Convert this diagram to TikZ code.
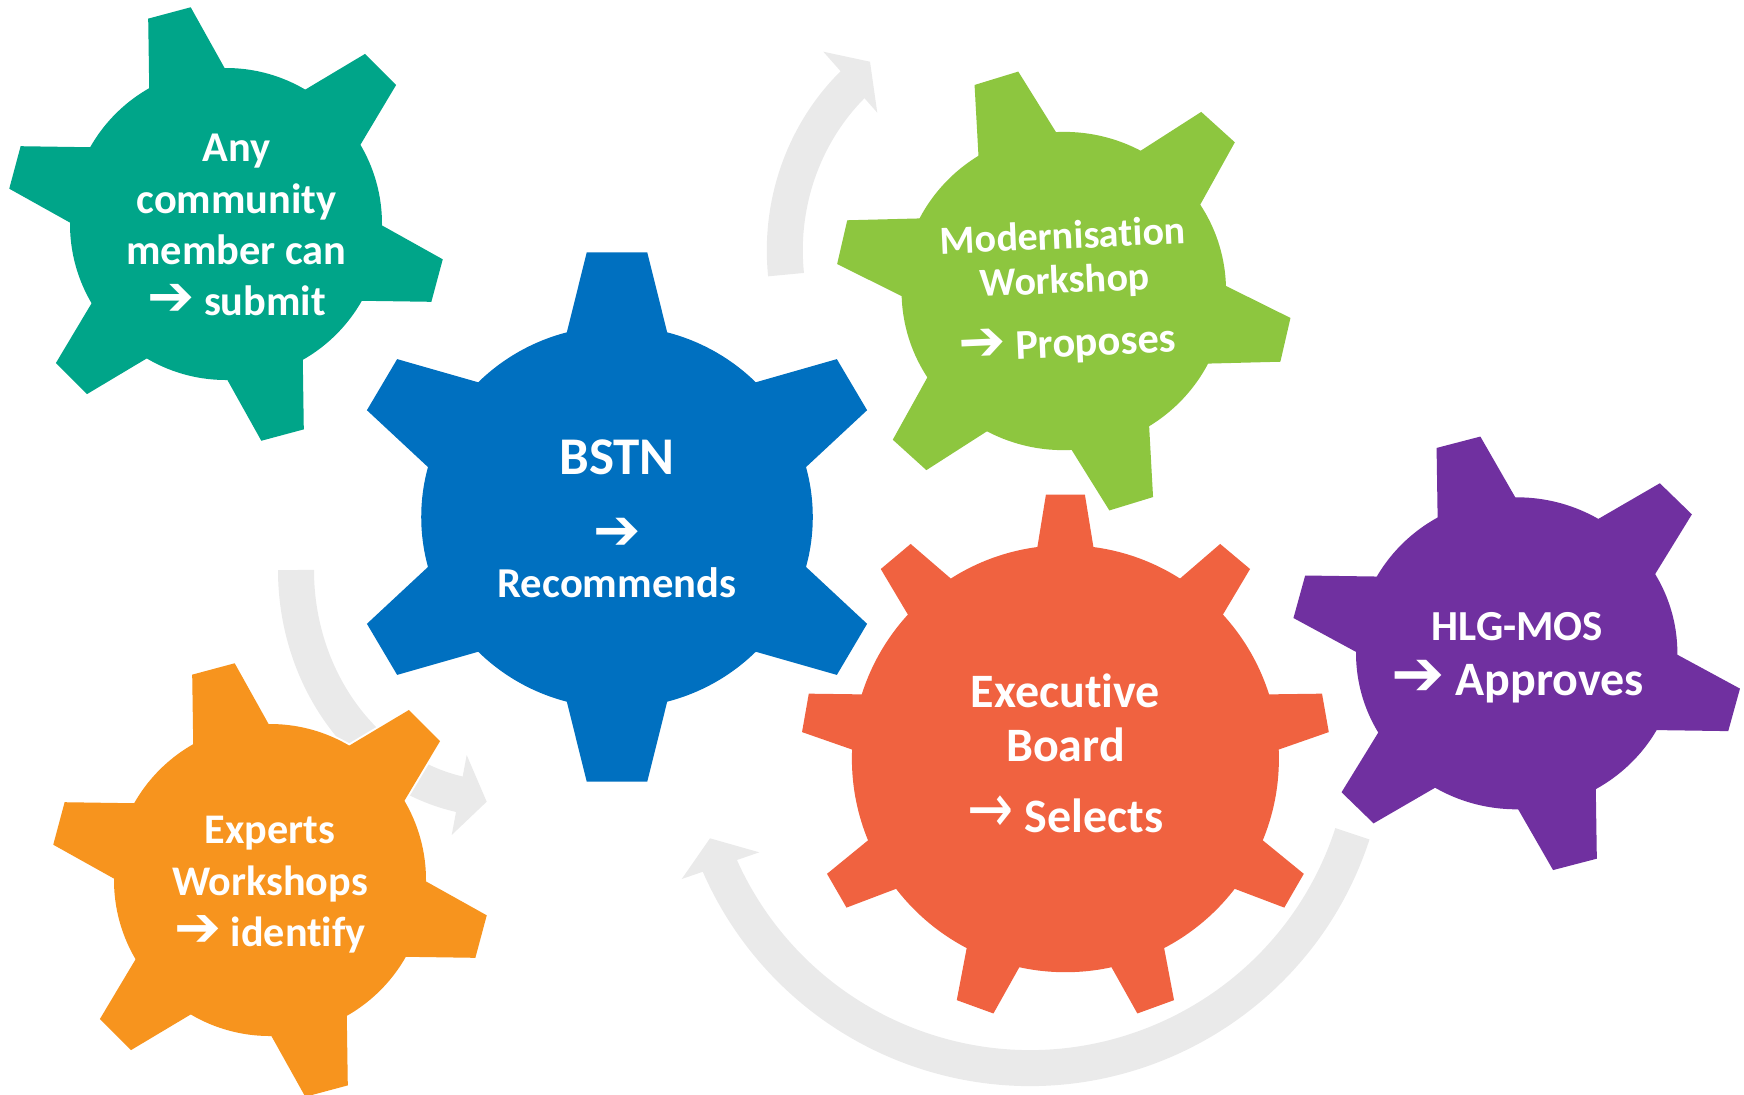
\documentclass[tikz,border=0pt]{standalone}
\usepackage{fontspec}
\setmainfont{Carlito}[Ligatures=NoCommon]
\newfontfamily\symfont{DejaVu Sans}
\usepackage{tikz}

\definecolor{gearteal}{RGB}{0,165,137}
\definecolor{gearblue}{RGB}{0,112,192}
\definecolor{geargreen}{RGB}{141,198,63}
\definecolor{gearred}{RGB}{240,98,64}
\definecolor{gearpurple}{RGB}{112,48,160}
\definecolor{gearorange}{RGB}{247,148,30}
\definecolor{cyclegray}{RGB}{234,234,234}

\newcommand{\nextstep}{\scalebox{1.33}{\symfont ➔}}
\newcommand{\thinstep}{{\mdseries\scalebox{1.15}[1.45]{\symfont →}}}
% colour, teeth, first tooth angle, body radius, tip radius, tip half width, root half width
\newcommand{\drawgear}[7]{%
  \foreach \k in {1,...,#2} {
    \draw[white, line width=2pt, rotate=#3+\k*360/#2] (0.6*#4,-#7) -- (#5,-#6) -- (#5,#6) -- (0.6*#4,#7) -- cycle;
  }
  \draw[white, line width=2pt] (0,0) circle (#4);
  \foreach \k in {1,...,#2} {
    \fill[#1, rotate=#3+\k*360/#2] (0.6*#4,-#7) -- (#5,-#6) -- (#5,#6) -- (0.6*#4,#7) -- cycle;
  }
  \fill[#1] (0,0) circle (#4);
}

\begin{document}
\begin{tikzpicture}[x=0.5pt, y=0.5pt, yscale=-1,
  gearlabel/.style={text=white, align=center, inner sep=0pt, anchor=north},
  cyclearc/.style={cyclegray, line width=18pt}]
\useasboundingbox (0,0) rectangle (1744,1094);

%grey arrows behind the gears
\draw[cyclearc] (1003.8,250.3) ++(173.9:219 and 229) arc[start angle=173.9, end angle=227, x radius=219, y radius=229];
\fill[cyclegray] (823.3,51.7) -- (870,61.7) -- (877.3,112.7) -- cycle;
\draw[cyclearc] (501,570) ++(180:205 and 229) arc[start angle=180, end angle=101, x radius=205, y radius=229];
\fill[cyclegray] (466.7,755) -- (486.7,801.7) -- (451.7,835) -- cycle;
\draw[cyclearc] (1030,729) ++(18:339) arc[start angle=18, end angle=157, radius=339];
\fill[cyclegray] (759.3,852.3) -- (710,838.3) -- (681.7,879) -- cycle;

%gears
\begin{scope}[shift={(226,224)}]
  \drawgear{gearteal}{6}{15}{156}{218.5}{22}{53.5}
\end{scope}
\begin{scope}[shift={(617,517)}, xscale=1.025]
  \drawgear{gearblue}{6}{30}{191}{264.7}{29.5}{66}
\end{scope}
\begin{scope}[shift={(1063.8,291)}, rotate=-2.3, xscale=1.04, yscale=1.02]
  \drawgear{geargreen}{6}{15}{156}{218.5}{22}{53.5}
\end{scope}
\begin{scope}[shift={(1065.4,758.7)}]
  \drawgear{gearred}{9}{30}{213.5}{264}{19.5}{41.6}
\end{scope}
\begin{scope}[shift={(1516.7,653.3)}, xscale=1.03]
  \drawgear{gearpurple}{6}{15}{156}{218.5}{22}{53.5}
\end{scope}
\begin{scope}[shift={(270,880)}]
  \drawgear{gearorange}{6}{15}{156}{218.5}{22}{53.5}
\end{scope}

%labels
\node[gearlabel, font=\bfseries\fontsize{21.2}{25.6}\selectfont] (submit) at (236.6,134)
  {Any\\community\\member can\\\nextstep\ submit};
\node[gearlabel, font=\bfseries\fontsize{21.3}{25}\selectfont] (bstn) at (617,438.9)
  {{\fontsize{26.5}{31}\selectfont BSTN}\\[12.5pt]\nextstep\\[-0.9pt]Recommends};
\node[gearlabel, rotate=2.5, font=\bfseries\fontsize{20}{22}\selectfont] (workshop) at (1062,220.5)
  {Modernisation\\Workshop\\[10pt]{\fontsize{21.2}{22}\selectfont\nextstep\ Proposes}};
\node[gearlabel, font=\bfseries\fontsize{24}{26.9}\selectfont] (board) at (1065.5,673.6)
  {Executive\\Board\\[8.5pt]\thinstep\ Selects};
\node[gearlabel, font=\bfseries\fontsize{21.4}{27.7}\selectfont] (hlgmos) at (1517.5,612)
  {HLG-MOS\\{\fontsize{24}{27.7}\selectfont\nextstep\ Approves}};
\node[gearlabel, font=\bfseries\fontsize{21.1}{25.7}\selectfont] (experts) at (270,816)
  {Experts\\Workshops\\\nextstep\ identify};
\end{tikzpicture}
\end{document}
